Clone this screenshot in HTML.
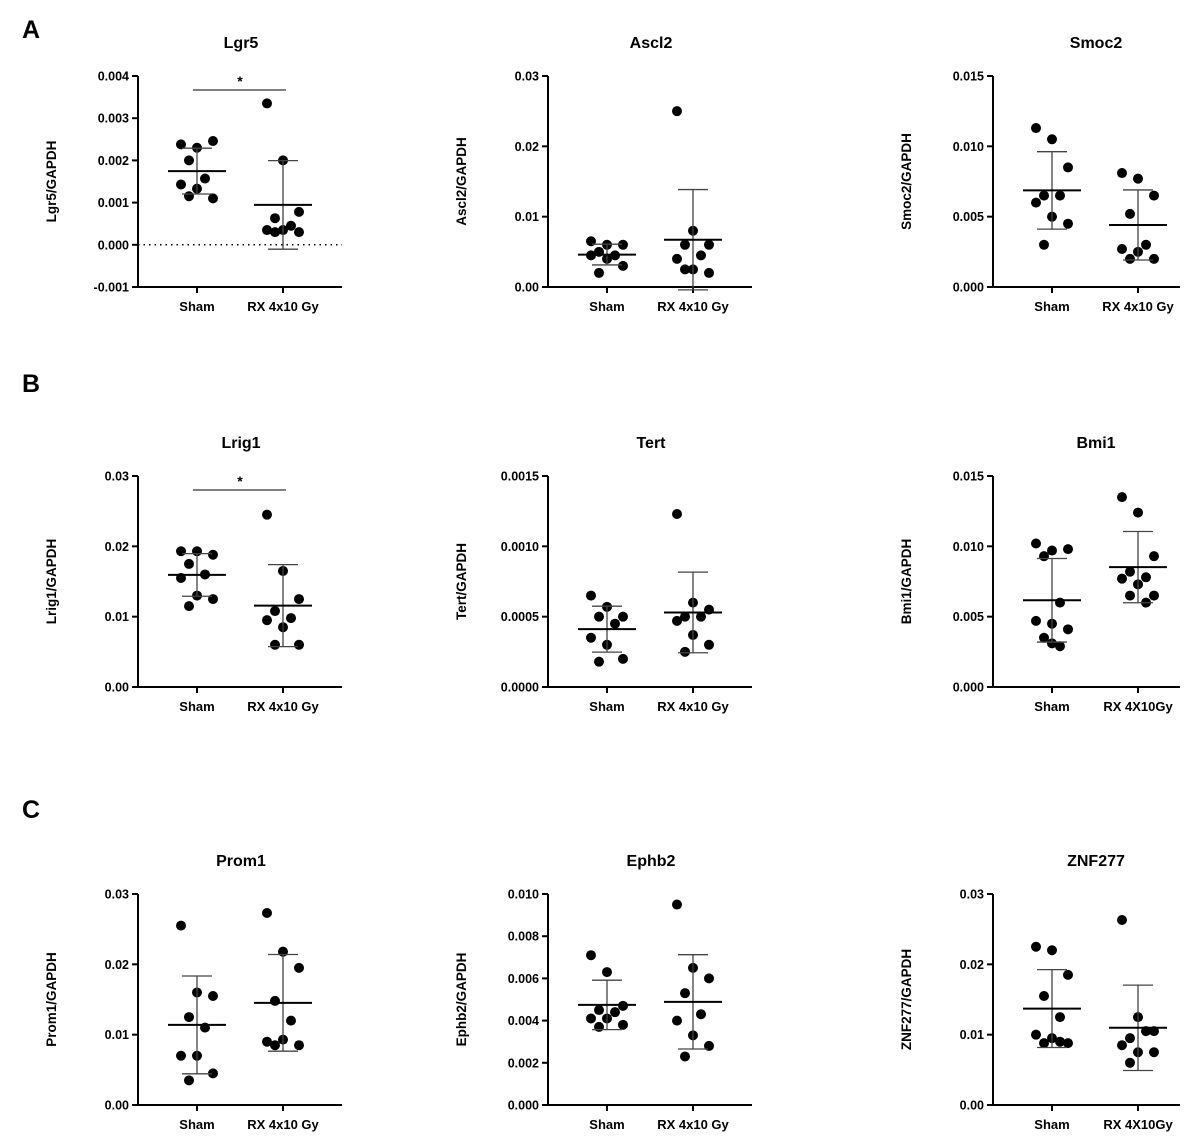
<!DOCTYPE html>
<html><head><meta charset="utf-8"><style>
body{margin:0;background:#fff}
svg text{font-family:"Liberation Sans",Arial,sans-serif;font-weight:bold;fill:#000}
</style></head><body>
<svg id="fig" width="1204" height="1139" viewBox="0 0 1204 1139" xmlns="http://www.w3.org/2000/svg">
<text x="22" y="38" font-size="25">A</text>
<text x="22" y="392" font-size="25">B</text>
<text x="22" y="818" font-size="25">C</text>
</svg>
<script>
const titles=["Lgr5","Ascl2","Smoc2","Lrig1","Tert","Bmi1","Prom1","Ephb2","ZNF277"];
const ylabels=["Lgr5/GAPDH","Ascl2/GAPDH","Smoc2/GAPDH","Lrig1/GAPDH","Tert/GAPDH","Bmi1/GAPDH","Prom1/GAPDH","Ephb2/GAPDH","ZNF277/GAPDH"];
const groupLabels=[["Sham","RX 4x10 Gy"],["Sham","RX 4x10 Gy"],["Sham","RX 4x10 Gy"],["Sham","RX 4x10 Gy"],["Sham","RX 4x10 Gy"],["Sham","RX 4X10Gy"],["Sham","RX 4x10 Gy"],["Sham","RX 4x10 Gy"],["Sham","RX 4X10Gy"]];
const yTicks=[[-0.001,0,0.001,0.002,0.003,0.004],[0,0.01,0.02,0.03],[0,0.005,0.010,0.015],[0,0.01,0.02,0.03],[0,0.0005,0.0010,0.0015],[0,0.005,0.010,0.015],[0,0.01,0.02,0.03],[0,0.002,0.004,0.006,0.008,0.010],[0,0.01,0.02,0.03]];
const tickDecimals=[3,2,3,2,4,3,2,3,2];
const shamValues=[
[0.00238,0.0023,0.00246,0.002,0.00157,0.00143,0.00133,0.0011,0.00115],
[0.0065,0.006,0.006,0.005,0.0045,0.0045,0.004,0.003,0.002],
[0.0113,0.0105,0.0085,0.0065,0.0065,0.006,0.005,0.0045,0.003],
[0.0193,0.0193,0.0188,0.0175,0.016,0.0155,0.013,0.0125,0.0115],
[0.00065,0.00057,0.0005,0.0005,0.00045,0.00035,0.0003,0.0002,0.00018],
[0.0102,0.0097,0.0098,0.0093,0.006,0.0047,0.0045,0.0041,0.0035,0.0029,0.0031],
[0.0255,0.016,0.0155,0.0125,0.011,0.007,0.007,0.0045,0.0035],
[0.0071,0.0063,0.0047,0.0045,0.0044,0.0041,0.0041,0.0038,0.0037],
[0.0225,0.022,0.0185,0.0155,0.0125,0.01,0.0095,0.0088,0.0088,0.009]];
const rxValues=[
[0.00335,0.002,0.00078,0.00063,0.00045,0.00035,0.00035,0.0003,0.0003],
[0.025,0.008,0.006,0.006,0.0045,0.004,0.0025,0.002,0.0025],
[0.0081,0.0077,0.0065,0.0052,0.003,0.0027,0.0025,0.002,0.002],
[0.0245,0.0165,0.0125,0.0108,0.0098,0.0095,0.0085,0.006,0.006],
[0.00123,0.0006,0.00055,0.0005,0.0005,0.00047,0.00037,0.0003,0.00025],
[0.0135,0.0124,0.0093,0.0082,0.0078,0.0077,0.0073,0.0065,0.0065,0.006],
[0.0273,0.0218,0.0195,0.0148,0.012,0.009,0.0093,0.0085,0.0085],
[0.0095,0.0065,0.006,0.0053,0.0043,0.004,0.0033,0.0028,0.0023],
[0.0263,0.0125,0.0105,0.0095,0.0105,0.0085,0.0075,0.0075,0.006]];
const significant=[true,false,false,true,false,false,false,false,false];

const svg=document.getElementById('fig');
const NS='http://www.w3.org/2000/svg';
function mk(tag,attrs,parent){const e=document.createElementNS(NS,tag);for(const k in attrs)e.setAttribute(k,attrs[k]);(parent||svg).appendChild(e);return e;}
const colAxis=[138,548,993],colLen=[204,204,187],rowTop=[76,476,894],plotH=211;
const jit=[-16,0,16,-8,8,-16,0,16,-8,8,0];
function stats(a){const m=a.reduce((s,v)=>s+v,0)/a.length;const sd=Math.sqrt(a.reduce((s,v)=>s+(v-m)*(v-m),0)/(a.length-1));return [m,sd];}
for(let p=0;p<9;p++){
  const ax=colAxis[p%3],len=colLen[p%3],top=rowTop[Math.floor(p/3)],bot=top+plotH;
  const tk=yTicks[p],ymin=tk[0],ymax=tk[tk.length-1];
  const y=v=>bot-(v-ymin)/(ymax-ymin)*plotH;
  const gx=[ax+59,ax+145];
  const g=mk('g',{});
  
  
  const t=mk('text',{x:ax+103,y:top-28,'font-size':16,'text-anchor':'middle'},g);t.textContent=titles[p];
  
  
  const yl=mk('text',{transform:`translate(${ax-82},${top+plotH/2}) rotate(-90)`,'font-size':13.5,'text-anchor':'middle'},g);yl.textContent=ylabels[p];
  
  
  const yAxis=mk('line',{x1:ax,y1:top,x2:ax,y2:bot,stroke:'#000','stroke-width':2},g);
  
  
  const xAxis=mk('line',{x1:ax-1,y1:bot,x2:ax+len,y2:bot,stroke:'#000','stroke-width':2},g);
  
  
  tk.forEach(v=>{
    mk('line',{x1:ax-6,y1:y(v),x2:ax,y2:y(v),stroke:'#000','stroke-width':2},g);
    const l=mk('text',{x:ax-9,y:y(v)+4.5,'font-size':12.5,'text-anchor':'end'},g);l.textContent=v.toFixed(tickDecimals[p]);
    
    
  });
  if(ymin<0) mk('line',{x1:ax,y1:y(0),x2:ax+len,y2:y(0),stroke:'#000','stroke-width':1.5,'stroke-dasharray':'1.5,4'},g);
  [shamValues[p],rxValues[p]].forEach((vals,gi)=>{
    const cx=gx[gi];
    mk('line',{x1:cx,y1:bot,x2:cx,y2:bot+6,stroke:'#000','stroke-width':2},g);
    const xl=mk('text',{x:cx,y:bot+24,'font-size':13,'text-anchor':'middle'},g);xl.textContent=groupLabels[p][gi];
    
    
    vals.forEach((v,i)=>{
      const c=mk('circle',{cx:cx+jit[i%jit.length],cy:y(v),r:5,fill:'#000'},g);
      
      
    });
    const [m,sd]=stats(vals);
    mk('line',{x1:cx,y1:y(m-sd),x2:cx,y2:y(m+sd),stroke:'#444','stroke-width':1.3},g);
    mk('line',{x1:cx-15,y1:y(m-sd),x2:cx+15,y2:y(m-sd),stroke:'#444','stroke-width':1.3},g);
    mk('line',{x1:cx-15,y1:y(m+sd),x2:cx+15,y2:y(m+sd),stroke:'#444','stroke-width':1.3},g);
    const ml=mk('line',{x1:cx-29,y1:y(m),x2:cx+29,y2:y(m),stroke:'#000','stroke-width':2},g);
    
    
  });
  if(significant[p]){
    mk('line',{x1:gx[0]-4,y1:top+14,x2:gx[1]+3,y2:top+14,stroke:'#000','stroke-width':1},g);
    const s=mk('text',{x:(gx[0]+gx[1])/2,y:top+10,'font-size':14,'text-anchor':'middle'},g);s.textContent='*';
    
    
  }
}
</script>
</body></html>
